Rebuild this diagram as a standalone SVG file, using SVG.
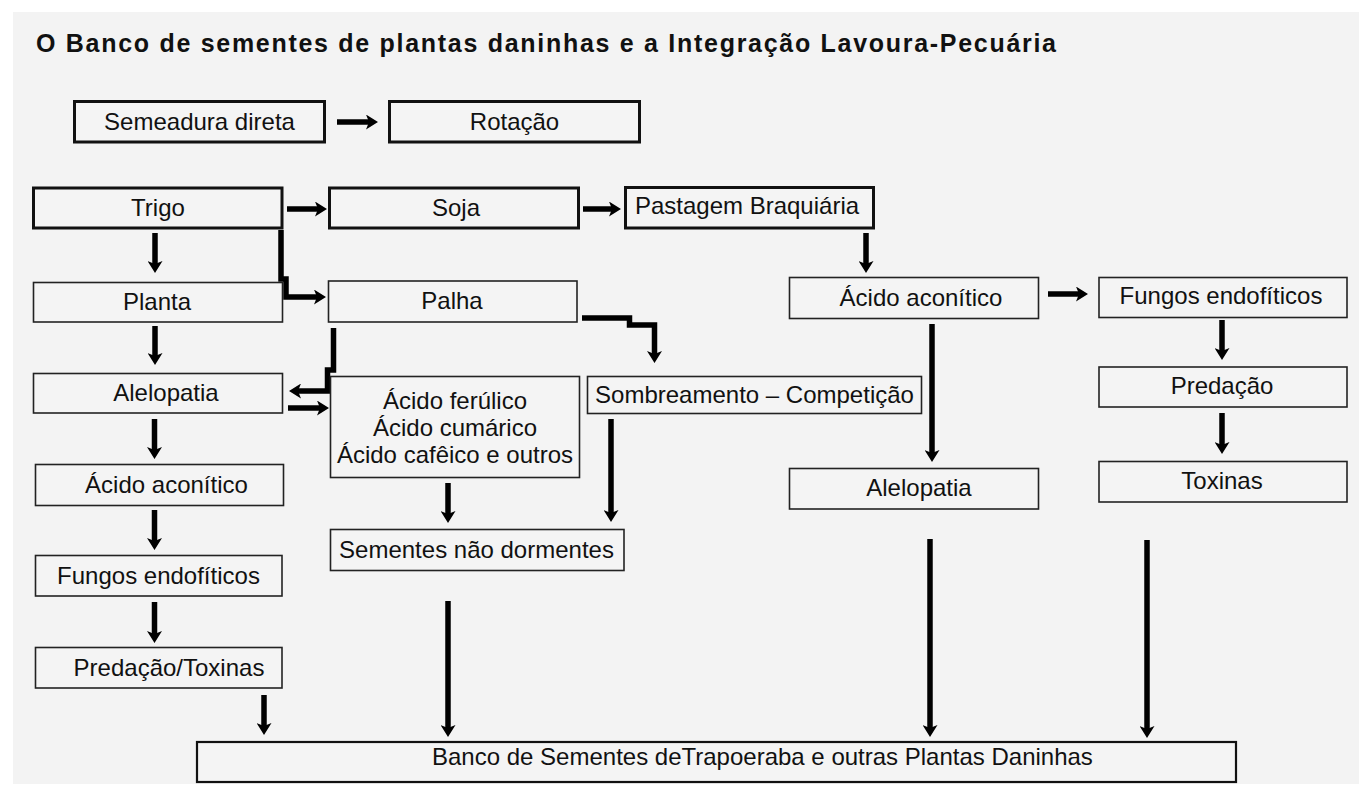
<svg xmlns="http://www.w3.org/2000/svg" width="1359" height="785" viewBox="0 0 1359 785">
  <defs>
    <style>
      .bg { fill: #f3f3f3; }
      .title { font-family: "Liberation Sans", Arial, sans-serif; font-weight: bold; font-size: 25px; fill: #111; }
      .t { font-family: "Liberation Sans", Arial, sans-serif; font-size: 24px; fill: #111; text-anchor: middle; }
      .thick { fill: #f4f4f4; stroke: #111; stroke-width: 3; }
      .thin { fill: #f4f4f4; stroke: #222; stroke-width: 1.6; }
      .mid { fill: #f4f4f4; stroke: #111; stroke-width: 2.2; }
      .c { fill: none; stroke: #000; stroke-width: 5.5; stroke-linejoin: miter; stroke-linecap: butt; marker-end: url(#ah); }
    </style>
    <marker id="ah" viewBox="0 0 12 15" markerWidth="12" markerHeight="15" refX="4" refY="7.5" orient="auto" markerUnits="userSpaceOnUse">
      <path d="M0,0 L12,7.5 L0,15 L3,7.5 Z" fill="#000"/>
    </marker>
  </defs>

  <rect class="bg" x="13" y="12" width="1346" height="772"/>

  <text class="title" x="36" y="52" textLength="1020" lengthAdjust="spacing">O Banco de sementes de plantas daninhas e a Integração Lavoura-Pecuária</text>

  <g id="connectors">
    <path class="c" d="M337,122 H370"/>
    <path class="c" d="M287,209 H319"/>
    <path class="c" d="M583,209 H613"/>
    <path class="c" d="M155,233 V265"/>
    <path class="c" d="M281,230 V279 H286 V297 H318"/>
    <path class="c" d="M155,326 V357"/>
    <path class="c" d="M333.5,328 V370 H327.5 V391 H297"/>
    <path class="c" d="M288,408 H321"/>
    <path class="c" d="M582,318 H629.5 V325 H654.5 V355"/>
    <path class="c" d="M154.5,419 V451"/>
    <path class="c" d="M154.5,510 V542"/>
    <path class="c" d="M154.5,602 V635"/>
    <path class="c" d="M264,695 V727"/>
    <path class="c" d="M448,483 V515"/>
    <path class="c" d="M611,419 V514"/>
    <path class="c" d="M448,601 V729"/>
    <path class="c" d="M866,233 V265"/>
    <path class="c" d="M1048,294 H1080"/>
    <path class="c" d="M932,324 V454"/>
    <path class="c" d="M1222,320 V352"/>
    <path class="c" d="M1222,413 V446"/>
    <path class="c" d="M930,539 V729"/>
    <path class="c" d="M1147,540 V730"/>
  </g>

  <g id="semeadura">
    <rect class="thick" x="74.5" y="101.5" width="250" height="40.5"/>
    <text class="t" x="199.5" y="130">Semeadura direta</text>
  </g>
  <g id="rotacao">
    <rect class="thick" x="389.5" y="101.5" width="250" height="40.5"/>
    <text class="t" x="514.5" y="130">Rotação</text>
  </g>
  <g id="trigo">
    <rect class="thick" x="33.5" y="188" width="248.5" height="40"/>
    <text class="t" x="158" y="215.5">Trigo</text>
  </g>
  <g id="soja">
    <rect class="thick" x="329.5" y="188" width="249" height="40"/>
    <text class="t" x="456" y="215.5">Soja</text>
  </g>
  <g id="pastagem">
    <rect class="thick" x="625.5" y="187.5" width="248" height="40.5"/>
    <text class="t" x="747" y="214">Pastagem Braquiária</text>
  </g>
  <g id="planta">
    <rect class="thin" x="33.5" y="282.5" width="249" height="39.5"/>
    <text class="t" x="157" y="309.5">Planta</text>
  </g>
  <g id="palha">
    <rect class="thin" x="328.5" y="281" width="248.5" height="41"/>
    <text class="t" x="452" y="309">Palha</text>
  </g>
  <g id="alelopatia-esq">
    <rect class="thin" x="33.5" y="373.5" width="249" height="39.5"/>
    <text class="t" x="166" y="401">Alelopatia</text>
  </g>
  <g id="acidos">
    <rect class="thin" x="330.5" y="376.5" width="249" height="101"/>
    <text class="t" x="455" y="409">Ácido ferúlico</text>
    <text class="t" x="455" y="436">Ácido cumárico</text>
    <text class="t" x="455" y="463">Ácido cafêico e outros</text>
  </g>
  <g id="sombreamento">
    <rect class="thin" x="587.5" y="376.5" width="334" height="37"/>
    <text class="t" x="754.5" y="403">Sombreamento – Competição</text>
  </g>
  <g id="aconitico-esq">
    <rect class="thin" x="35.5" y="464.5" width="248" height="41"/>
    <text class="t" x="166.5" y="493">Ácido aconítico</text>
  </g>
  <g id="fungos-esq">
    <rect class="thin" x="35.5" y="555.5" width="246.5" height="40.5"/>
    <text class="t" x="158.5" y="583.5">Fungos endofíticos</text>
  </g>
  <g id="predacao-toxinas">
    <rect class="thin" x="35.5" y="647.5" width="246.5" height="40.5"/>
    <text class="t" x="169" y="675.5">Predação/Toxinas</text>
  </g>
  <g id="sementes">
    <rect class="thin" x="330.5" y="529.5" width="293.5" height="41"/>
    <text class="t" x="476.5" y="558">Sementes não dormentes</text>
  </g>
  <g id="aconitico-dir">
    <rect class="thin" x="789.5" y="277.5" width="249" height="41"/>
    <text class="t" x="921" y="305.5">Ácido aconítico</text>
  </g>
  <g id="fungos-dir">
    <rect class="thin" x="1099" y="277.5" width="248" height="40"/>
    <text class="t" x="1221" y="304">Fungos endofíticos</text>
  </g>
  <g id="predacao">
    <rect class="thin" x="1099" y="367" width="248" height="40"/>
    <text class="t" x="1222" y="393.5">Predação</text>
  </g>
  <g id="toxinas">
    <rect class="thin" x="1099" y="461.5" width="248" height="40.5"/>
    <text class="t" x="1222" y="489">Toxinas</text>
  </g>
  <g id="alelopatia-dir">
    <rect class="thin" x="789.5" y="468.5" width="249" height="40.5"/>
    <text class="t" x="919" y="496">Alelopatia</text>
  </g>
  <g id="banco">
    <rect class="mid" x="197" y="742" width="1039" height="40"/>
    <text class="t" x="432" y="765" style="text-anchor:start">Banco de Sementes deTrapoeraba e outras Plantas Daninhas</text>
  </g>
</svg>
